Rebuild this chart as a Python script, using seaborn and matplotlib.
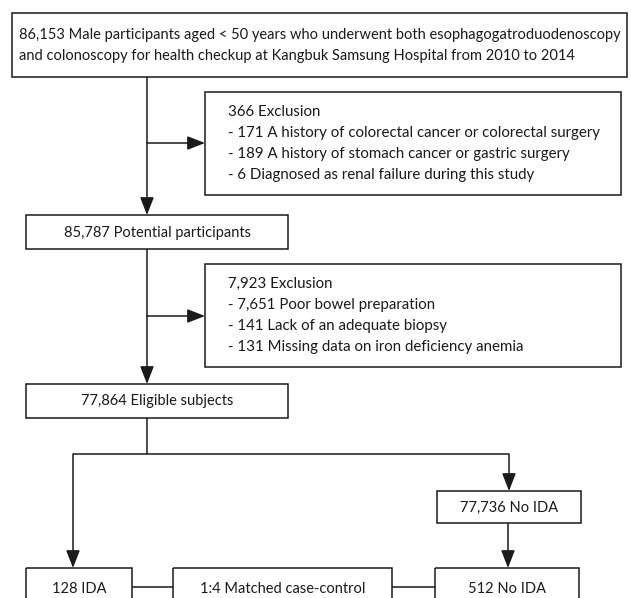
import matplotlib.pyplot as plt
import seaborn as sns
from matplotlib.patches import Rectangle

# flow numbers
n_total = 86153
excl1_total = 366
excl1_counts = [171, 189, 6]
excl1_reasons = ["A history of colorectal cancer or colorectal surgery",
                 "A history of stomach cancer or gastric surgery",
                 "Diagnosed as renal failure during this study"]
n_potential = 85787
excl2_total = 7923
excl2_counts = [7651, 141, 131]
excl2_reasons = ["Poor bowel preparation",
                 "Lack of an adequate biopsy",
                 "Missing data on iron deficiency anemia"]
n_eligible = 77864
n_no_ida = 77736
n_ida = 128
n_matched_ctrl = 512
match_ratio = "1:4"

sns.set_theme(style="white")
plt.rcParams['font.family'] = ['Lato', 'DejaVu Sans']

INK = "#1a1a1a"
FS = 10.5

fig = plt.figure(figsize=(6.31, 5.98), dpi=100)
ax = fig.add_axes([0, 0, 1, 1])
ax.set_xlim(0, 631)
ax.set_ylim(598, 0)
ax.axis("off")


def box(x0, y0, x1, y1):
    ax.add_patch(Rectangle((x0, y0), x1 - x0, y1 - y0, fill=False,
                           edgecolor=INK, linewidth=1.1))


def line(xs, ys):
    ax.plot(xs, ys, color=INK, linewidth=1.1, solid_capstyle="butt")


def arrow(x0, y0, x1, y1):
    ax.annotate("", xy=(x1, y1), xytext=(x0, y0),
                arrowprops=dict(arrowstyle="-|>,head_length=0.9,head_width=0.35",
                                color=INK, lw=1.1, shrinkA=0, shrinkB=0,
                                mutation_scale=12))


def label(x, y, t, ha="center", fs=FS):
    ax.text(x, y, t, fontsize=fs, color=INK, va="center", ha=ha)


# top box
box(12, 13, 627, 77)
label(19, 34.5, f"{n_total:,} Male participants aged < 50 years who underwent both esophagogatroduodenoscopy", "left")
label(19, 56, "and colonoscopy for health checkup at Kangbuk Samsung Hospital from 2010 to 2014", "left")

# exclusion 1
box(205, 92, 621, 195)
lines1 = [f"{excl1_total:,} Exclusion"] + [f"- {c:,} {r}" for c, r in zip(excl1_counts, excl1_reasons)]
for i, t in enumerate(lines1):
    label(228, 112 + i * 21, t, "left", 10.8)

line([147, 147], [77, 143])
arrow(147, 143, 205, 143)
arrow(147, 143, 147, 215)

# potential
box(26, 215, 288, 249)
label(157, 232.5, f"{n_potential:,} Potential participants")

# exclusion 2
box(205, 264, 621, 367)
lines2 = [f"{excl2_total:,} Exclusion"] + [f"- {c:,} {r}" for c, r in zip(excl2_counts, excl2_reasons)]
for i, t in enumerate(lines2):
    label(228, 284 + i * 21, t, "left", 10.8)

line([147, 147], [249, 316])
arrow(147, 316, 205, 316)
arrow(147, 316, 147, 384)

# eligible
box(26, 384, 288, 418)
label(157, 401.5, f"{n_eligible:,} Eligible subjects")

# branch
line([147, 147], [418, 454])
line([73, 509], [454, 454])
arrow(73, 454, 73, 568)
arrow(509, 454, 509, 491)

# no IDA
box(437, 491, 581, 523)
label(509, 507.5, f"{n_no_ida:,} No IDA")
arrow(508, 523, 508, 568)

# bottom row
box(26, 568, 132, 612)
label(79, 589, f"{n_ida:,} IDA")
box(173, 568, 392, 612)
label(282.5, 589, f"{match_ratio} Matched case-control")
box(435, 568, 579, 612)
label(507, 589, f"{n_matched_ctrl:,} No IDA")
line([132, 173], [587, 587])
line([392, 435], [587, 587])

fig.savefig("out.png", dpi=100)
